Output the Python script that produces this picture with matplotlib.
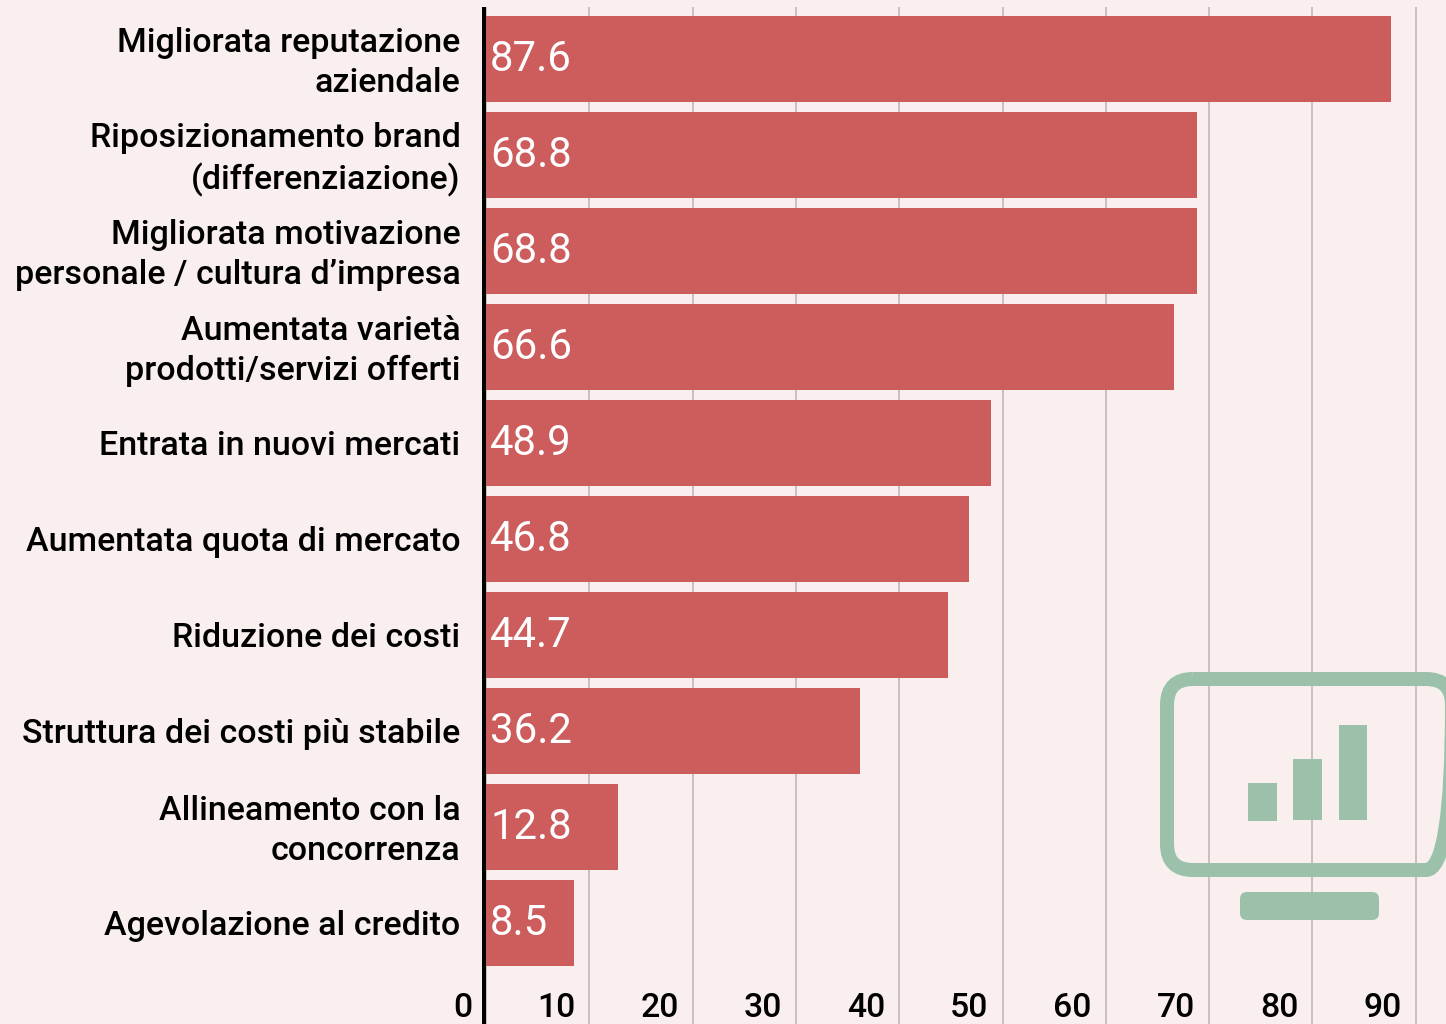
import matplotlib
matplotlib.use("Agg")
import matplotlib.pyplot as plt
from matplotlib.patches import FancyBboxPatch, Rectangle
from matplotlib.transforms import ScaledTranslation

categories = [
    "Migliorata reputazione\naziendale",
    "Riposizionamento brand\n(differenziazione)",
    "Migliorata motivazione\npersonale / cultura d’impresa",
    "Aumentata varietà\nprodotti/servizi offerti",
    "Entrata in nuovi mercati",
    "Aumentata quota di mercato",
    "Riduzione dei costi",
    "Struttura dei costi più stabile",
    "Allineamento con la\nconcorrenza",
    "Agevolazione al credito",
]
values = [87.6, 68.8, 68.8, 66.6, 48.9, 46.8, 44.7, 36.2, 12.8, 8.5]
x_ticks = [0, 10, 20, 30, 40, 50, 60, 70, 80, 90]

W, H = 1446, 1024
BG = "#F8EFEE"
RED = "#CD5C5C"
GREEN = "#9BC1AA"
GRID = "#C9C0C0"
px = 72 / 100

plt.rcParams["font.family"] = ["Roboto", "DejaVu Sans"]
fig = plt.figure(figsize=(W / 100, H / 100), dpi=100, facecolor=BG)
left, top = 486, 7
ax = fig.add_axes([left / W, 0, (W - left) / W, (H - top) / H], facecolor=BG)

# Spine position first: moving a spine resets the axis ticks
for s in ("top", "right", "bottom"):
    ax.spines[s].set_visible(False)
ax.spines["left"].set_linewidth(4 * px)
ax.spines["left"].set_color("#000000")
ax.spines["left"].set_position(("outward", 2.5 * px))
ax.spines["left"].set_capstyle("butt")
ax.spines["left"].set_zorder(5)

positions = list(range(len(values)))
ax.barh(positions, values, height=0.896, color=RED, zorder=3)
ax.set_xlim(0, (W - left) / 10.33)
ax.set_ylim((H - 59) / 96, -(59 - top) / 96)

ax.tick_params(axis="y", length=0, pad=23 * px, labelsize=24.45, labelcolor="#000000")
ax.set_yticks(positions, categories, fontweight=500, linespacing=1.32, ha="right")
up = ScaledTranslation(0, 3.5 / 100, fig.dpi_scale_trans)
for lab in ax.get_yticklabels():
    if "\n" in lab.get_text():
        lab.set_transform(lab.get_transform() + up)

ax.tick_params(axis="x", length=0, pad=-32 * px, labelsize=24.3, labelcolor="#000000")
ax.set_xticks(x_ticks, [str(t) for t in x_ticks], fontweight=500, ha="right")
offset = ScaledTranslation(-14 / 100, 0, fig.dpi_scale_trans)
for lab in ax.get_xticklabels():
    lab.set_transform(lab.get_transform() + offset)

ax.grid(axis="x", color=GRID, linewidth=2 * px, zorder=1)
ax.set_axisbelow(True)

for y, v in zip(positions, values):
    ax.annotate(f"{v}", xy=(0, y), xytext=(4, -0.7), textcoords="offset pixels",
                ha="left", va="center", color="white", fontsize=30.2, zorder=6)

# Decorative monitor icon, placed in figure pixels
ov = fig.add_axes([0, 0, 1, 1], facecolor="none")
ov.set_xlim(0, W)
ov.set_ylim(H, 0)
ov.axis("off")
ov.add_patch(FancyBboxPatch((1167, 679), 285, 191, boxstyle="round,pad=0,rounding_size=26",
                            fill=False, edgecolor=GREEN, linewidth=14 * px))
for x0, y0, w, h in [(1248, 783, 29, 38), (1293, 759, 29, 61), (1339, 725, 28, 95)]:
    ov.add_patch(Rectangle((x0, y0), w, h, facecolor=GREEN, edgecolor="none"))
ov.add_patch(FancyBboxPatch((1240, 892), 139, 28, boxstyle="round,pad=0,rounding_size=7",
                            facecolor=GREEN, edgecolor="none"))

fig.savefig("out.png", dpi=100, facecolor=BG)
